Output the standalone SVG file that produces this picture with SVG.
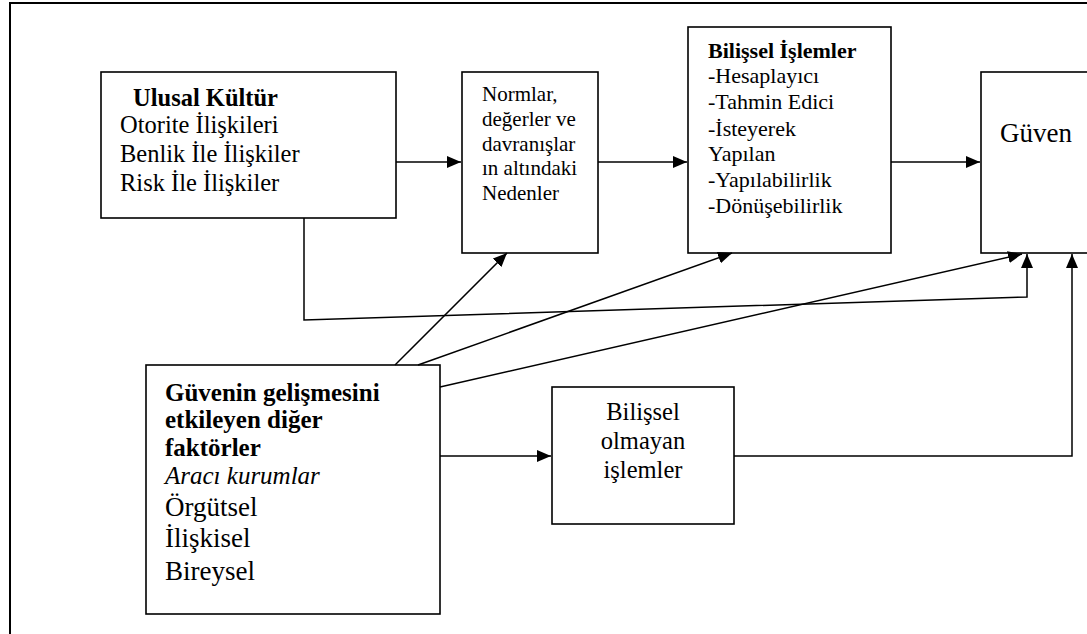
<svg xmlns="http://www.w3.org/2000/svg" width="1087" height="634" viewBox="0 0 1087 634">
  <style>
    .box { fill: #ffffff; stroke: #000000; stroke-width: 1.6; }
    .frame { fill: none; stroke: #000000; stroke-width: 2; }
    .link { fill: none; stroke: #000000; stroke-width: 1.5; }
    text { font-family: 'Liberation Serif', 'DejaVu Serif', serif; fill: #000000; }
    .b { font-weight: bold; }
    .i { font-style: italic; }
  </style>
  <defs>
    <marker id="arrow" markerUnits="userSpaceOnUse" markerWidth="15" markerHeight="13" refX="14" refY="6" orient="auto">
      <path d="M0,0 L14,6 L0,12 z" fill="#000000"/>
    </marker>
  </defs>

  <rect width="1087" height="634" fill="#ffffff"/>
  <!-- outer frame, running past the right and bottom edges -->
  <rect class="frame" x="10" y="3" width="1120" height="700"/>

  <g font-family="Liberation Serif, DejaVu Serif, serif">
  <g id="ulusal-kultur">
    <rect class="box" x="101" y="72" width="295" height="146"/>
    <text font-size="24.5" x="133" y="106" class="b">Ulusal Kültür</text>
    <text font-size="24.5" x="120" y="133">Otorite İlişkileri</text>
    <text font-size="24.5" x="120" y="162">Benlik İle İlişkiler</text>
    <text font-size="24.5" x="120" y="191">Risk İle İlişkiler</text>
  </g>

  <g id="normlar">
    <rect class="box" x="462" y="72" width="136" height="181"/>
    <text font-size="21" x="482" y="101">Normlar,</text>
    <text font-size="21" x="482" y="126">değerler ve</text>
    <text font-size="21" x="482" y="151">davranışlar</text>
    <text font-size="21" x="482" y="175">ın altındaki</text>
    <text font-size="21" x="482" y="200">Nedenler</text>
  </g>

  <g id="bilissel-islemler">
    <rect class="box" x="688" y="27" width="203" height="226"/>
    <text font-size="22" x="708" y="58" class="b">Bilişsel İşlemler</text>
    <text font-size="22" x="708" y="83">-Hesaplayıcı</text>
    <text font-size="22" x="708" y="109">-Tahmin Edici</text>
    <text font-size="22" x="708" y="136">-İsteyerek</text>
    <text font-size="22" x="708" y="161">Yapılan</text>
    <text font-size="22" x="708" y="187">-Yapılabilirlik</text>
    <text font-size="22" x="708" y="213">-Dönüşebilirlik</text>
  </g>

  <g id="guven">
    <rect class="box" x="981" y="72" width="160" height="181"/>
    <text font-size="27" x="1000" y="142">Güven</text>
  </g>

  <g id="diger-faktorler">
    <rect class="box" x="146" y="365" width="294" height="249"/>
    <text font-size="25" x="165" y="401" class="b">Güvenin gelişmesini</text>
    <text font-size="25" x="165" y="428" class="b">etkileyen diğer</text>
    <text font-size="25" x="165" y="456" class="b">faktörler</text>
    <text font-size="25" x="165" y="484" class="i">Aracı kurumlar</text>
    <text font-size="27" x="165" y="516">Örgütsel</text>
    <text font-size="27" x="165" y="547">İlişkisel</text>
    <text font-size="27" x="165" y="580">Bireysel</text>
  </g>

  <g id="bilissel-olmayan">
    <rect class="box" x="552" y="387" width="182" height="137"/>
    <text font-size="24.5" x="643" y="420" text-anchor="middle">Bilişsel</text>
    <text font-size="24.5" x="643" y="449" text-anchor="middle">olmayan</text>
    <text font-size="24.5" x="643" y="478" text-anchor="middle">işlemler</text>
  </g>
  </g>

  <g id="connectors">
    <path class="link" d="M396,162 H461" marker-end="url(#arrow)"/>
    <path class="link" d="M598,162 H687" marker-end="url(#arrow)"/>
    <path class="link" d="M891,162 H980" marker-end="url(#arrow)"/>
    <path class="link" d="M304,218 V320 L1027,297 V254" marker-end="url(#arrow)"/>
    <path class="link" d="M395,365 L507,253" marker-end="url(#arrow)"/>
    <path class="link" d="M418,365 L732,253" marker-end="url(#arrow)"/>
    <path class="link" d="M440,387 L1022,254" marker-end="url(#arrow)"/>
    <path class="link" d="M440,456 H551" marker-end="url(#arrow)"/>
    <path class="link" d="M734,456 H1072 V254" marker-end="url(#arrow)"/>
  </g>
</svg>
